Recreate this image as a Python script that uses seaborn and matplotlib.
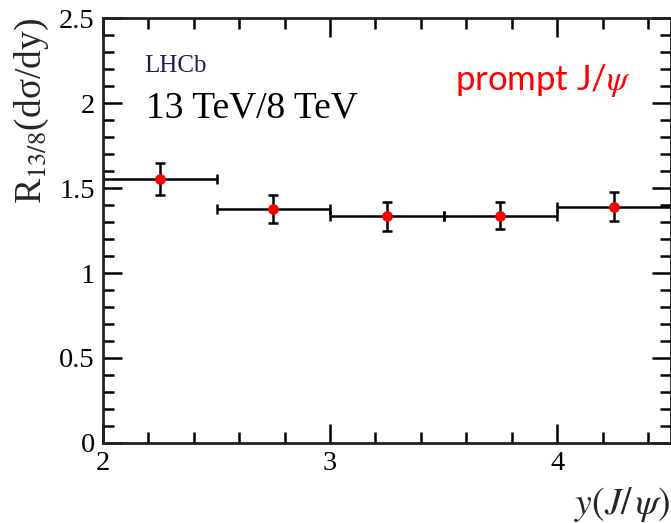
import matplotlib
matplotlib.use("Agg")
import matplotlib.pyplot as plt
import seaborn as sns
import pandas as pd
from matplotlib.ticker import MultipleLocator

# ---- data ----
bin_centers = [2.25, 2.75, 3.25, 3.75, 4.25]
bin_halfwidths = [0.25, 0.25, 0.25, 0.25, 0.25]
ratio = [1.553, 1.378, 1.334, 1.336, 1.390]
ratio_err = [0.097, 0.081, 0.085, 0.079, 0.085]
xticks = [2, 3, 4]
yticks = [0, 0.5, 1, 1.5, 2, 2.5]
ytick_labels = ["0", "0.5", "1", "1.5", "2", "2.5"]

sns.set_theme(style="ticks")
plt.rcParams["font.family"] = ["Liberation Serif", "DejaVu Serif"]
plt.rcParams["mathtext.fontset"] = "stix"

df = pd.DataFrame({"y": bin_centers, "R": ratio})

fig = plt.figure(figsize=(6.71, 5.23), dpi=100)
ax = fig.add_axes([0.1535, 0.153, 0.846, 0.8125])

ax.errorbar(bin_centers, ratio, xerr=bin_halfwidths, yerr=ratio_err,
            fmt="none", ecolor="black", elinewidth=1.8, capsize=3.5,
            capthick=1.8, zorder=2)
sns.scatterplot(data=df, x="y", y="R", ax=ax, color="#ff0000", s=60,
                edgecolor="#ff0000", linewidth=0, zorder=3, legend=False)

ax.set_xlim(2, 4.5)
ax.set_ylim(0, 2.5)
ax.set_xticks(xticks)
ax.set_xticklabels([str(t) for t in xticks])
ax.set_yticks(yticks)
ax.set_yticklabels(ytick_labels)
ax.xaxis.set_minor_locator(MultipleLocator(0.2))
ax.yaxis.set_minor_locator(MultipleLocator(0.1))
ax.tick_params(which="both", direction="in", top=True, right=True,
               labelsize=20.5, width=1.8, colors="black", pad=6)
ax.tick_params(which="major", length=14)
ax.tick_params(which="minor", length=8)
for s in ax.spines.values():
    s.set_linewidth(2)
    s.set_color("#222222")

ax.set_xlabel("$y(J/\\,\\psi)$", fontsize=27, ha="right")
ax.xaxis.set_label_coords(0.999, -0.098)
ax.set_ylabel("R$_{13/8}$(dσ/dy)", fontsize=27, loc="top", labelpad=6)

ax.text(2.18, 2.22, "LHCb", fontsize=18, color="#1f1f55", va="center", ha="left")
ax.text(2.19, 1.97, "13 TeV/8 TeV", fontsize=27, color="black", va="center", ha="left")
ax.text(3.55, 2.135, "prompt J/$\\psi$", fontsize=25, color="#ff0000",
        va="center", ha="left", family=["Lato", "DejaVu Sans"])

fig.savefig("out.png", dpi=100)
